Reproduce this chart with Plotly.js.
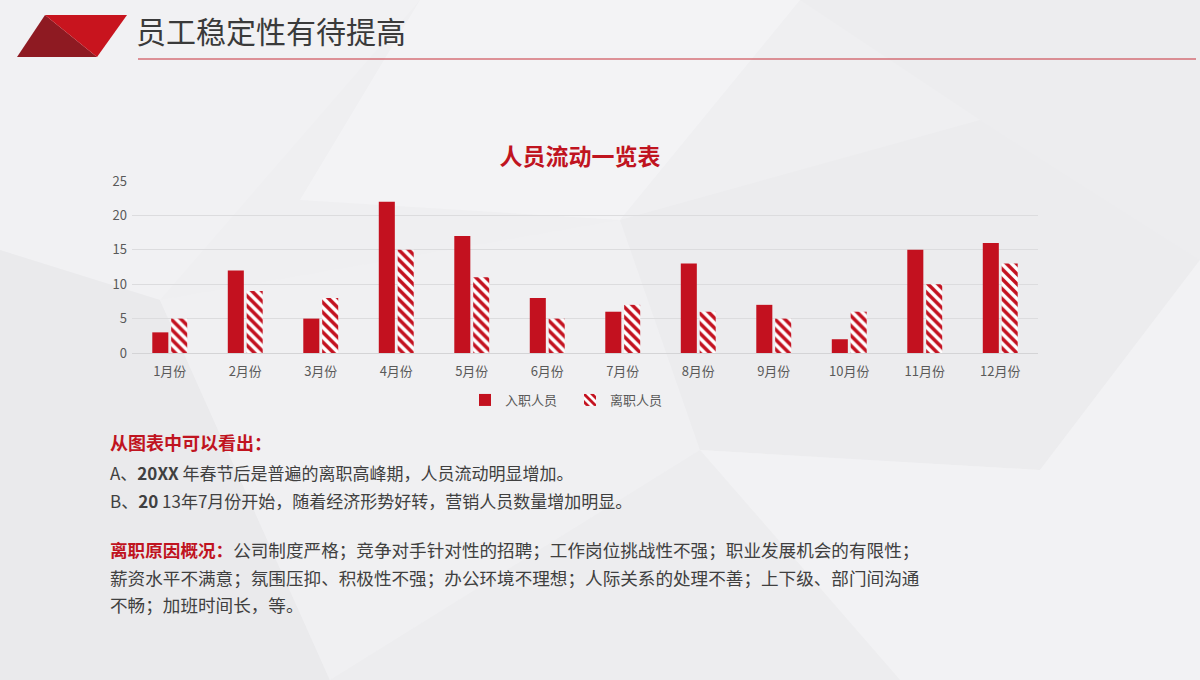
<!DOCTYPE html>
<html>
<head>
<meta charset="utf-8">
<script src="https://cdn.plot.ly/plotly-3.0.1.min.js"></script>
<style>
html,body{margin:0;padding:0;background:#efeff1;}
#chart{width:1200px;height:680px;}
</style>
</head>
<body>
<div id="chart"></div>
<script>
const months = ["1月份","2月份","3月份","4月份","5月份","6月份","7月份","8月份","9月份","10月份","11月份","12月份"];
const joined = [3,12,5,22,17,8,6,13,7,2,15,16];
const left = [5,9,8,15,11,5,7,6,5,6,10,13];
const seriesNames = ["入职人员","离职人员"];
const yTicks = [0,5,10,15,20,25];

const RED = "#c3111f";
const W = 1200, H = 680;
const L = 132, R = 1038, T = 181, B = 353;
const px = x => (x - L) / (R - L);
const py = y => (B - y) / (B - T);
const FONT = "Noto Sans CJK SC, Noto Sans, sans-serif";

function poly(pts, fill) {
  const d = pts.map((p, i) => (i ? "L" : "M") + px(p[0]).toFixed(4) + "," + py(p[1]).toFixed(4)).join(" ") + " Z";
  return {type: "path", xref: "paper", yref: "paper", path: d, fillcolor: fill, line: {width: 0}, layer: "below"};
}

const shapes = [
  // subtle background facets
  poly([[0,0],[420,0],[160,300],[0,250]], "#f1f1f3"),
  poly([[420,0],[800,0],[620,220],[300,200]], "#f3f3f5"),
  poly([[800,0],[1200,0],[1200,260],[980,120]], "#ededef"),
  poly([[0,250],[160,300],[330,680],[0,680]], "#eaeaec"),
  poly([[160,300],[620,220],[700,450],[330,680]], "#f0f0f2"),
  poly([[620,220],[980,120],[1200,260],[1040,470],[700,450]], "#ececee"),
  poly([[700,450],[1040,470],[1200,260],[1200,680],[900,680]], "#f2f2f4"),
  poly([[330,680],[700,450],[900,680]], "#ededef"),
  // header parallelogram
  poly([[45,15],[17,57],[97,57]], "#8e1a22"),
  poly([[45,15],[127,15],[97,57]], "#c8141e"),
  // header underline
  {type: "line", xref: "paper", yref: "paper", x0: px(138), x1: px(1196), y0: py(59), y1: py(59),
   line: {color: "#c8303a", width: 1.2}, layer: "above"}
];

function txt(text, x, y, size, color, extra) {
  return Object.assign({
    text: text, xref: "paper", yref: "paper", x: px(x), y: py(y),
    xanchor: "left", yanchor: "middle", showarrow: false,
    font: {family: FONT, size: size, color: color}
  }, extra || {});
}

const annotations = [
  txt("员工稳定性有待提高", 134, 30, 30, "#3a3a3a"),
  txt("<b>从图表中可以看出：</b>", 108, 442, 18, "#c0141f"),
  txt("A、<b>20XX</b> 年春节后是普遍的离职高峰期，人员流动明显增加。", 108, 472, 17, "#404040"),
  txt("B、<b>20</b> 13年7月份开始，随着经济形势好转，营销人员数量增加明显。", 108, 500, 17, "#404040"),
  txt("<b><span style='color:#c0141f'>离职原因概况：</span></b>公司制度严格；竞争对手针对性的招聘；工作岗位挑战性不强；职业发展机会的有限性；", 108, 549, 17.6, "#404040"),
  txt("薪资水平不满意；氛围压抑、积极性不强；办公环境不理想；人际关系的处理不善；上下级、部门间沟通", 108, 577, 17.6, "#404040"),
  txt("不畅；加班时间长，等。", 108, 604, 17.6, "#404040")
];

const data = [
  {type: "bar", name: seriesNames[0], x: months, y: joined,
   marker: {color: RED, line: {width: 0}}},
  {type: "bar", name: seriesNames[1], x: months, y: left,
   marker: {color: "#ffffff", line: {width: 0},
            pattern: {shape: "\\", fgcolor: RED, bgcolor: "#ffffff", size: 7, solidity: 0.5}}}
];

const layout = {
  width: W, height: H,
  margin: {l: L, r: W - R, t: T, b: H - B, pad: 0},
  paper_bgcolor: "#efeff1",
  plot_bgcolor: "rgba(0,0,0,0)",
  font: {family: FONT, color: "#595959", size: 12},
  title: {text: "<b>人员流动一览表</b>", x: 580 / W, y: 1 - 157 / H, xref: "container", yref: "container",
          xanchor: "center", yanchor: "middle", font: {family: FONT, size: 23, color: "#c0141f"}},
  barmode: "group", bargap: 0.5, bargroupgap: 0.15,
  xaxis: {showgrid: false, showline: true, linecolor: "#d4d4d6", linewidth: 1, ticks: "",
          ticklabelstandoff: 6,
          tickfont: {size: 13, color: "#595959"}, zeroline: false, fixedrange: true},
  yaxis: {range: [0, 25], tickvals: yTicks, showgrid: true, gridcolor: "#dcdcde", gridwidth: 1,
          zeroline: false, showline: false, ticks: "", ticklabelstandoff: 4,
          tickfont: {size: 13, color: "#595959"}, fixedrange: true},
  showlegend: true,
  legend: {orientation: "h", x: px(570), xanchor: "center", y: py(400), yanchor: "middle",
           font: {size: 13, color: "#595959"}, bgcolor: "rgba(0,0,0,0)", itemwidth: 30, entrywidth: 60},
  shapes: shapes,
  annotations: annotations
};

Plotly.newPlot("chart", data, layout, {displayModeBar: false, staticPlot: true});
</script>
</body>
</html>
